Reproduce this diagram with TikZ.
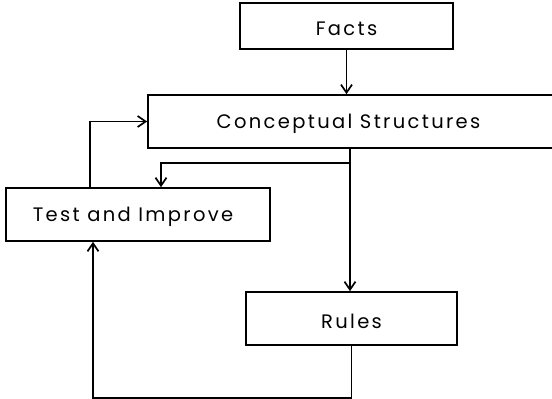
\documentclass[tikz,border=0pt]{standalone}
\usepackage{fontspec}
\setmainfont{Poppins}[LetterSpace=12]
\usetikzlibrary{arrows.meta}
\begin{document}
\begin{tikzpicture}[x=1pt,y=-1pt,
  box/.style={draw, line width=1.7pt, rectangle, inner sep=0pt},
  lbl/.style={font=\fontsize{19.5}{22}\selectfont, inner sep=0pt},
  conn/.style={line width=1.7pt},
  arr/.style={conn, -{Straight Barb[length=8pt,width=11pt,line width=1.7pt]}}]
  \useasboundingbox (0,0) rectangle (552,399);
  \clip (0,0) rectangle (552,399);
  % boxes, each with its label
  \node[box, minimum width=213pt, minimum height=46pt] (facts) at (346.5,26) {};
  \node[lbl] (factslabel) at (346.5,29) {Facts};
  \node[box, minimum width=420pt, minimum height=53pt] (cs) at (358,121.5) {};
  \node[lbl] (cslabel) at (348.5,124) {Conceptual Structures};
  \node[box, minimum width=264pt, minimum height=53pt] (tai) at (138,214.5) {};
  \node[lbl] (tailabel) at (133,217) {Test and Improve};
  \node[box, minimum width=211pt, minimum height=53pt] (rules) at (351.5,318.5) {};
  \node[lbl] (ruleslabel) at (351.5,321) {Rules};
  % junction below the conceptual structures
  \coordinate (j) at (350,163);
  % connectors
  \draw[arr] (facts.south) -- (facts.south |- cs.north);
  \draw[arr] (j |- cs.south) -- (j |- rules.north);
  \draw[arr] (j) -| ([xshift=23pt]tai.north);
  \draw[arr] ([xshift=-48pt]tai.north) |- (cs.west);
  \draw[arr] (rules.south) -- ++(0,52) -| ([xshift=-45pt]tai.south);
\end{tikzpicture}
\end{document}
